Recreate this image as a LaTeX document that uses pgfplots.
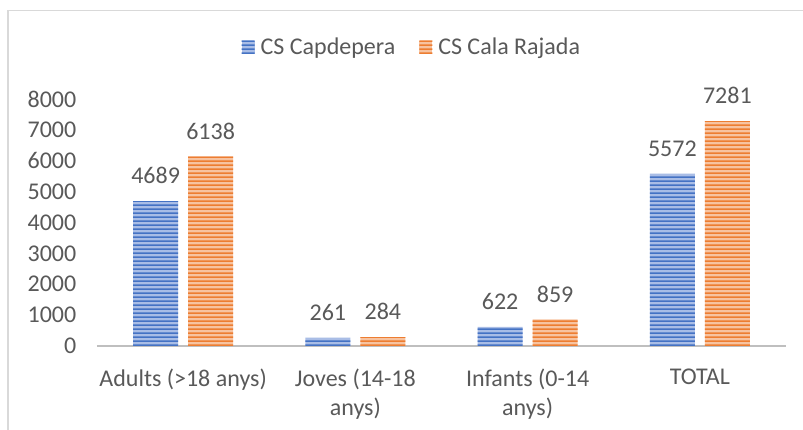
\documentclass[border=0pt]{standalone}
\usepackage{pgfplots}
\pgfplotsset{compat=1.18}
\usepackage{fontspec}
\setmainfont{Carlito}
\usetikzlibrary{patterns}
\definecolor{cBlue}{HTML}{4472C4}
\definecolor{cOrange}{HTML}{ED7D31}
\definecolor{cBlueL}{HTML}{A9BDE6}
\definecolor{cOrangeL}{HTML}{F7C3A0}
\definecolor{txt}{HTML}{595959}
\newcommand{\cfont}{\fontsize{24}{29}\selectfont}
% wide tile so no vertical seams show up
\pgfdeclarepatternformonly{hstripes}{\pgfpointorigin}{\pgfpoint{1000pt}{4pt}}{\pgfpoint{1000pt}{4pt}}
  {\pgfpathrectangle{\pgfpointorigin}{\pgfpoint{1000pt}{2pt}}\pgfusepath{fill}}

\begin{document}
\begin{tikzpicture}
\path[use as bounding box] (-97pt,-84pt) rectangle (706pt,346pt);
\draw[black!15, line width=1.2pt] (-89pt,-120pt) -- (-89pt,335.5pt) -- (740pt,335.5pt);
\begin{axis}[
  at={(0pt,0pt)}, anchor=south west,
  scale only axis, width=689pt, height=247pt,
  ybar=10pt, bar width=45pt,
  xmin=-0.5, xmax=3.5, ymin=0, ymax=8000,
  xtick={0,1,2,3},
  xticklabels={Adults (>18 anys), {Joves (14-18\\anys)}, {Infants (0-14\\anys)}, TOTAL},
  ytick={0,1000,...,8000},
  /pgf/number format/1000 sep={},
  /pgf/number format/assume math mode=true,
  axis lines*=left,
  y axis line style={draw=none},
  x axis line style={draw=black!25, line width=2pt},
  tick style={draw=none},
  tick label style={font=\cfont, text=txt, inner sep=0pt},
  yticklabel style={xshift=-20.5pt},
  xticklabel style={align=center, anchor=north, yshift=-18pt},
  nodes near coords,
  every node near coord/.append style={font=\cfont, text=txt, inner sep=0pt, yshift=17pt},
  legend style={at={(0.457,1.21)}, anchor=center, draw=none, fill=none,
    font=\cfont, text=txt, legend columns=2,
    /tikz/every odd column/.append style={column sep=4pt},
    /tikz/every even column/.append style={column sep=22pt}},
  legend image code/.code={\fill[#1] (0pt,-6.5pt) rectangle (13pt,6.5pt);},
]
\addplot[fill=cBlueL, draw=none, postaction={pattern=hstripes, pattern color=cBlue}]
  coordinates {(0,4689) (1,261) (2,622) (3,5572)};
\addplot[fill=cOrangeL, draw=none, postaction={pattern=hstripes, pattern color=cOrange}]
  coordinates {(0,6138) (1,284) (2,859) (3,7281)};
\legend{CS Capdepera, CS Cala Rajada}
\end{axis}
\end{tikzpicture}
\end{document}
